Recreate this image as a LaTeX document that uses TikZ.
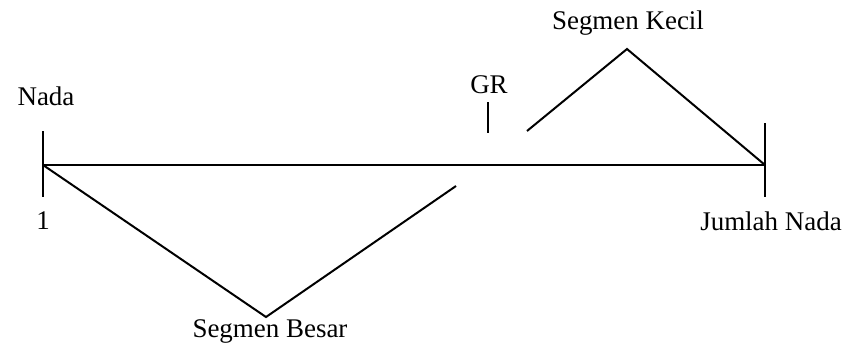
\documentclass[tikz,border=0pt]{standalone}
\usepackage{fontspec}
\setmainfont{Liberation Serif}
\usetikzlibrary{positioning}

\begin{document}
\begin{tikzpicture}[x=0.03cm, y=-0.03cm,
  axis/.style={line width=2.4pt},
  seg/.style={line width=1.7pt},
  tick/.style={line width=1.1pt},
  lbl/.style={font=\fontsize{23}{27}\selectfont, anchor=base, inner sep=0pt}
]
  \useasboundingbox (0,0) rectangle (845,350);

  % Axis points
  \coordinate (start) at (43,165);
  \coordinate (gapL) at (457,165);
  \coordinate (gapR) at (508,165);
  \coordinate (stop) at (765,165);

  % Axis
  \draw[axis] (start) -- (gapL);
  \draw[tick] (gapL) -- (gapR);
  \draw[axis] (gapR) -- (stop);

  % Ticks
  \coordinate (startTop) at (43,131);
  \coordinate (startBot) at (43,197);
  \coordinate (stopTop) at (765,123);
  \coordinate (stopBot) at (765,197);
  \coordinate (grTop) at (488,102);
  \coordinate (grBot) at (488,133);
  \draw[tick] (startTop) -- (startBot);
  \draw[tick] (stopTop) -- (stopBot);
  \draw[tick] (grTop) -- (grBot);

  % Segments
  \coordinate (besar) at (266,317);
  \coordinate (besarEnd) at (456,186);
  \coordinate (kecilStart) at (527,131);
  \coordinate (kecil) at (627,49);
  \draw[seg] (start) -- (besar) -- (besarEnd);
  \draw[seg] (kecilStart) -- (kecil) -- (stop);

  % Labels
  \node[lbl] (nadaLbl) at (46,105) {Nada};
  \node[lbl] (oneLbl) at (43,229) {1};
  \node[lbl] (jumlahLbl) at (771,230) {Jumlah Nada};
  \node[lbl] (grLbl) at (489,93) {GR};
  \node[lbl] (kecilLbl) at (628,29) {Segmen Kecil};
  \node[lbl] (besarLbl) at (270,337) {Segmen Besar};
\end{tikzpicture}
\end{document}
